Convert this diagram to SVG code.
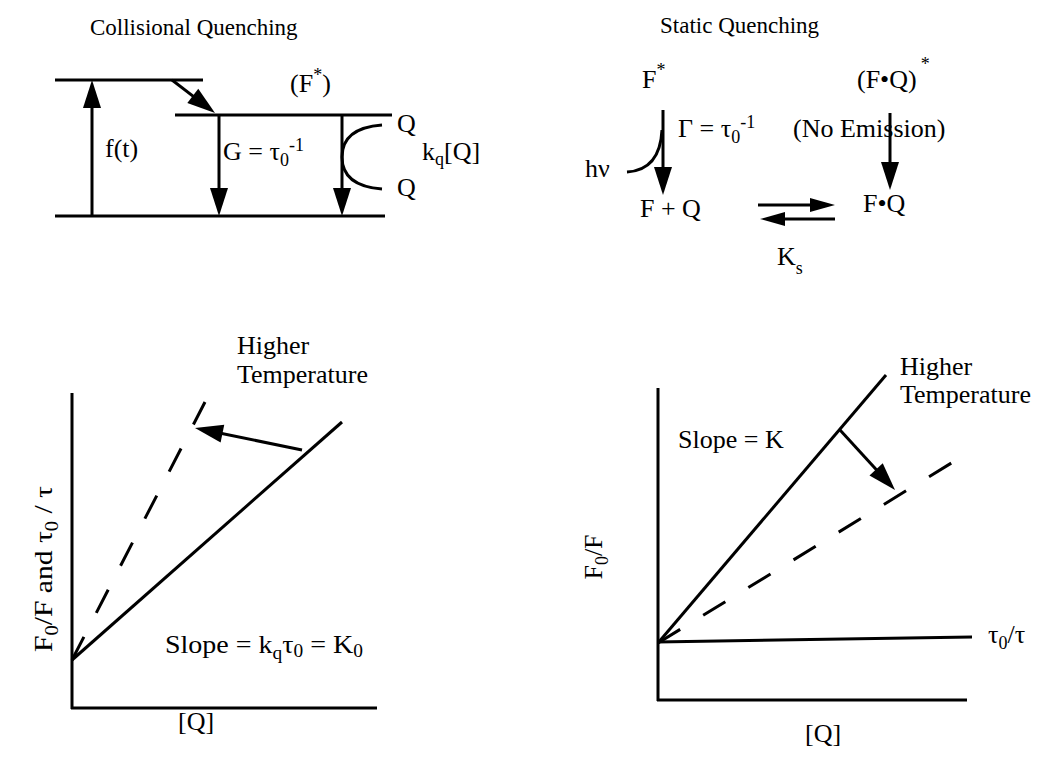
<svg xmlns="http://www.w3.org/2000/svg" width="1040" height="764" viewBox="0 0 1040 764">
<style>
text{font-family:"Liberation Serif","Times New Roman",serif;font-size:26px;fill:#000}
.t{font-size:23px}
.s{font-size:18px}
.ln{stroke:#000;stroke-width:3;fill:none;stroke-linecap:butt}
.ar{stroke:#000;stroke-width:3;fill:none;marker-end:url(#ah)}
.sa{stroke:#000;stroke-width:3;fill:none;marker-end:url(#sh)}
.da{stroke:#000;stroke-width:3;fill:none;stroke-dasharray:26 27}
</style>
<defs>
<marker id="ah" markerUnits="userSpaceOnUse" markerWidth="28" markerHeight="18" refX="13" refY="9" orient="auto" overflow="visible">
<path d="M0,0 L28,9 L0,18 z" fill="#000"/>
</marker>
<marker id="sh" markerUnits="userSpaceOnUse" markerWidth="25" markerHeight="14" refX="11" refY="7" orient="auto" overflow="visible">
<path d="M0,0 L25,7 L0,14 z" fill="#000"/>
</marker>
</defs>
<rect width="1040" height="764" fill="#fff"/>

<g id="collisional-title"><text class="t" x="90" y="35">Collisional Quenching</text></g>
<g id="static-title"><text class="t" x="660" y="33">Static Quenching</text></g>

<g id="collisional-levels">
<line class="ln" x1="55" y1="80" x2="203" y2="80"/>
<line class="ln" x1="175" y1="115" x2="392" y2="115"/>
<line class="ln" x1="55" y1="216" x2="385" y2="216"/>
<path class="ln" d="M382,125 Q342,128 342,157 Q342,186 382,189"/>
</g>
<g id="collisional-labels">
<text x="290" y="92">(F<tspan class="s" dy="-11">*</tspan><tspan dy="11">)</tspan></text>
<text x="105" y="157">f(t)</text>
<text x="223" y="160">G = τ<tspan class="s" dy="6">0</tspan><tspan class="s" dy="-15">-1</tspan></text>
<text x="397" y="132">Q</text>
<text x="397" y="196">Q</text>
<text x="422" y="160">k<tspan class="s" dy="5">q</tspan><tspan dy="-5">[Q]</tspan></text>
</g>

<g id="static-labels">
<text x="642" y="88">F<tspan class="s" dy="-12">*</tspan></text>
<text x="857" y="88">(F•Q)<tspan class="s" dy="-18" dx="4">*</tspan></text>
<text x="678" y="137">Γ = τ<tspan class="s" dy="6">0</tspan><tspan class="s" dy="-15">-1</tspan></text>
<text x="793" y="137">(No Emission)</text>
<text x="585" y="177">hν</text>
<text x="640" y="217">F + Q</text>
<text x="863" y="212">F•Q</text>
<text x="777" y="265">K<tspan class="s" dy="9">s</tspan></text>
</g>

<g id="plot-left">
<line class="ln" x1="72" y1="393" x2="72" y2="709"/>
<line class="ln" x1="71" y1="708" x2="377" y2="708"/>
<line class="ln" x1="72" y1="660" x2="342" y2="422"/>
<line class="da" x1="72" y1="660" x2="205" y2="402"/>
<text x="237" y="354" font-size="26">Higher</text>
<text x="237" y="383" font-size="27">Temperature</text>
<text x="165" y="653" textLength="198" lengthAdjust="spacingAndGlyphs">Slope = k<tspan class="s" dy="6">q</tspan><tspan dy="-6">τ</tspan><tspan class="s" dy="4">0</tspan><tspan dy="-4"> = K</tspan><tspan class="s" dy="4">0</tspan></text>
<text x="178" y="730">[Q]</text>
<text transform="translate(52,569) rotate(-90)" text-anchor="middle" font-size="27" textLength="166" lengthAdjust="spacingAndGlyphs">F<tspan class="s" dy="6">0</tspan><tspan dy="-6">/F and τ</tspan><tspan class="s" dy="6">0</tspan><tspan dy="-6"> / τ</tspan></text>
</g>

<g id="plot-right">
<line class="ln" x1="658" y1="388" x2="658" y2="701"/>
<line class="ln" x1="657" y1="700" x2="967" y2="700"/>
<line class="ln" x1="657" y1="642" x2="972" y2="637"/>
<line class="ln" x1="658" y1="643" x2="886" y2="375"/>
<line class="da" x1="658" y1="643" x2="953" y2="462"/>
<text x="900" y="375" font-size="25">Higher</text>
<text x="900" y="403" font-size="26">Temperature</text>
<text x="678" y="448">Slope = K</text>
<text x="988" y="643">τ<tspan class="s" dy="6">0</tspan><tspan dy="-6">/τ</tspan></text>
<text x="805" y="742">[Q]</text>
<text transform="translate(602,557) rotate(-90)" text-anchor="middle">F<tspan class="s" dy="6">0</tspan><tspan dy="-6">/F</tspan></text>
</g>

<g id="connectors">
<line class="ar" x1="92" y1="216" x2="92" y2="95"/>
<line class="ar" x1="172" y1="80" x2="203.1" y2="103.9"/>
<line class="ar" x1="219" y1="115" x2="219" y2="201"/>
<line class="ar" x1="342" y1="115" x2="342" y2="201"/>
<path class="ln" d="M627,172 Q660,170 662,130"/>
<line class="ar" x1="663" y1="110" x2="663" y2="180"/>
<line class="ar" x1="890" y1="113" x2="890" y2="175"/>
<line class="sa" x1="758" y1="205" x2="821" y2="205"/>
<line class="sa" x1="835" y1="219" x2="774" y2="219"/>
<line class="ar" x1="302" y1="450" x2="209.7" y2="431"/>
<line class="ar" x1="840" y1="430" x2="884.9" y2="478.9"/>
</g>
</svg>
